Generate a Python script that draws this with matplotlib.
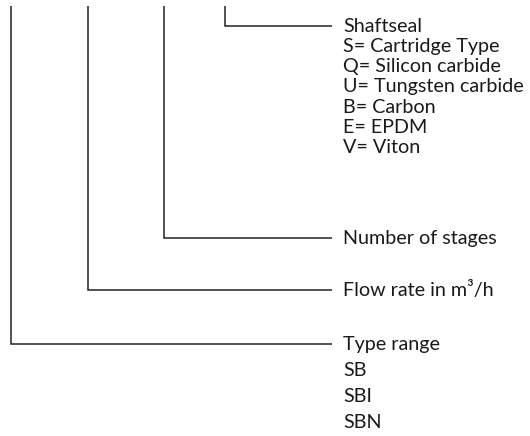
import matplotlib
matplotlib.use("Agg")
import matplotlib.pyplot as plt

# Diagram content
shaftseal_lines = ["Shaftseal", "S= Cartridge Type", "Q= Silicon carbide",
                   "U= Tungsten carbide", "B= Carbon", "E= EPDM", "V= Viton"]
stages_lines = ["Number of stages"]
flow_lines = ["Flow rate in m³/h"]
type_lines = ["Type range", "SB", "SBI", "SBN"]

groups = [shaftseal_lines, stages_lines, flow_lines, type_lines]

# layout (pixel coordinates)
stem_x = [225, 164, 88, 11]
elbow_y = [26, 238, 290, 344]
line_spacing = [20.3, 26, 26, 26]
top_y = 6
line_end = 332
text_x = 343

fig = plt.figure(figsize=(5.3, 4.36), dpi=100)
ax = fig.add_axes([0, 0, 1, 1])
ax.set_xlim(0, 530)
ax.set_ylim(436, 0)
ax.axis("off")

lc = "#222222"
for g, sx, ey, sp in zip(groups, stem_x, elbow_y, line_spacing):
    ax.plot([sx, sx, line_end], [top_y, ey, ey], color=lc, lw=1.1,
            solid_joinstyle="miter", solid_capstyle="butt")
    for i, t in enumerate(g):
        ax.text(text_x, ey + i * sp, t, fontsize=14.2, family="Lato",
                color="#1a1a1a", va="center", ha="left")

fig.savefig("out.png", dpi=100)
